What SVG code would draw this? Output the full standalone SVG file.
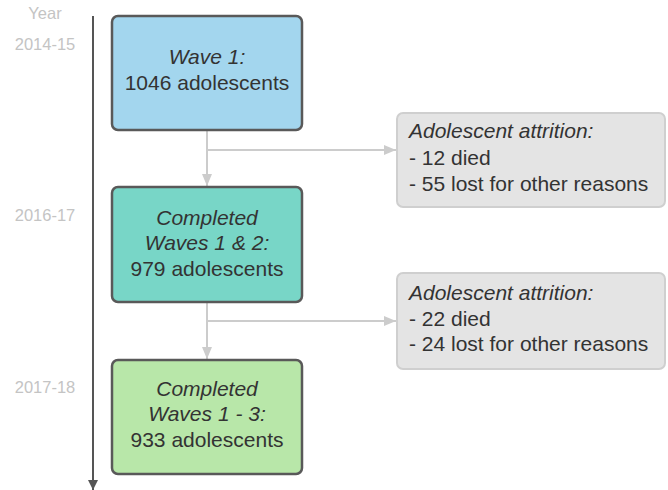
<svg xmlns="http://www.w3.org/2000/svg" width="668" height="490" viewBox="0 0 668 490">
<style>
text{font-family:"Liberation Sans",Arial,sans-serif;fill:#333}
.yr{font-size:16.5px;fill:#c4c4c4;text-anchor:middle}
.nt{font-size:21px;text-anchor:middle}
.at{font-size:21px}
.it{font-style:italic}
.main{stroke:#595959;stroke-width:2.5}
.att{fill:#e4e4e4;stroke:#cfcfcf;stroke-width:2}
.conn{stroke:#cccccc;stroke-width:2;fill:none}
</style>
<defs>
<marker id="ah" markerWidth="12" markerHeight="10" refX="12" refY="5" orient="auto" markerUnits="userSpaceOnUse">
<path d="M0,0 L12,5 L0,10 Z" fill="#cccccc"/>
</marker>
<marker id="tl" markerWidth="10" markerHeight="10" refX="10" refY="5" orient="auto" markerUnits="userSpaceOnUse">
<path d="M0,0 L10,5 L0,10 Z" fill="#555"/>
</marker>
</defs>
<g id="timeline">
<line x1="93" y1="16" x2="93" y2="490" stroke="#555" stroke-width="2" marker-end="url(#tl)"/>
<text class="yr" x="45" y="19">Year</text>
<text class="yr" x="45" y="50">2014-15</text>
<text class="yr" x="45" y="221">2016-17</text>
<text class="yr" x="45" y="393">2017-18</text>
</g>
<g id="connectors">
<line class="conn" x1="207" y1="131" x2="207" y2="186" marker-end="url(#ah)"/>
<line class="conn" x1="207" y1="150" x2="396" y2="150" marker-end="url(#ah)"/>
<line class="conn" x1="207" y1="302" x2="207" y2="359" marker-end="url(#ah)"/>
<line class="conn" x1="207" y1="321" x2="396" y2="321" marker-end="url(#ah)"/>
</g>
<g id="wave1">
<rect class="main" x="112" y="16" width="190" height="114" rx="6" fill="#a3d6ee"/>
<text class="nt it" x="207" y="64">Wave 1:</text>
<text class="nt" x="207" y="90">1046 adolescents</text>
</g>
<g id="wave2">
<rect class="main" x="112" y="187" width="190" height="115" rx="6" fill="#78d6c7"/>
<text class="nt it" x="207" y="225">Completed</text>
<text class="nt it" x="207" y="250">Waves 1 &amp; 2:</text>
<text class="nt" x="207" y="276">979 adolescents</text>
</g>
<g id="wave3">
<rect class="main" x="112" y="360" width="190" height="114" rx="6" fill="#b8e7a9"/>
<text class="nt it" x="207" y="396">Completed</text>
<text class="nt it" x="207" y="421">Waves 1 - 3:</text>
<text class="nt" x="207" y="447">933 adolescents</text>
</g>
<g id="attrition1">
<rect class="att" x="397" y="113" width="268" height="94" rx="6"/>
<text class="at it" x="409" y="138">Adolescent attrition:</text>
<text class="at" x="409" y="165">- 12 died</text>
<text class="at" x="409" y="191">- 55 lost for other reasons</text>
</g>
<g id="attrition2">
<rect class="att" x="397" y="273" width="268" height="96" rx="6"/>
<text class="at it" x="409" y="300">Adolescent attrition:</text>
<text class="at" x="409" y="326">- 22 died</text>
<text class="at" x="409" y="351">- 24 lost for other reasons</text>
</g>
</svg>
